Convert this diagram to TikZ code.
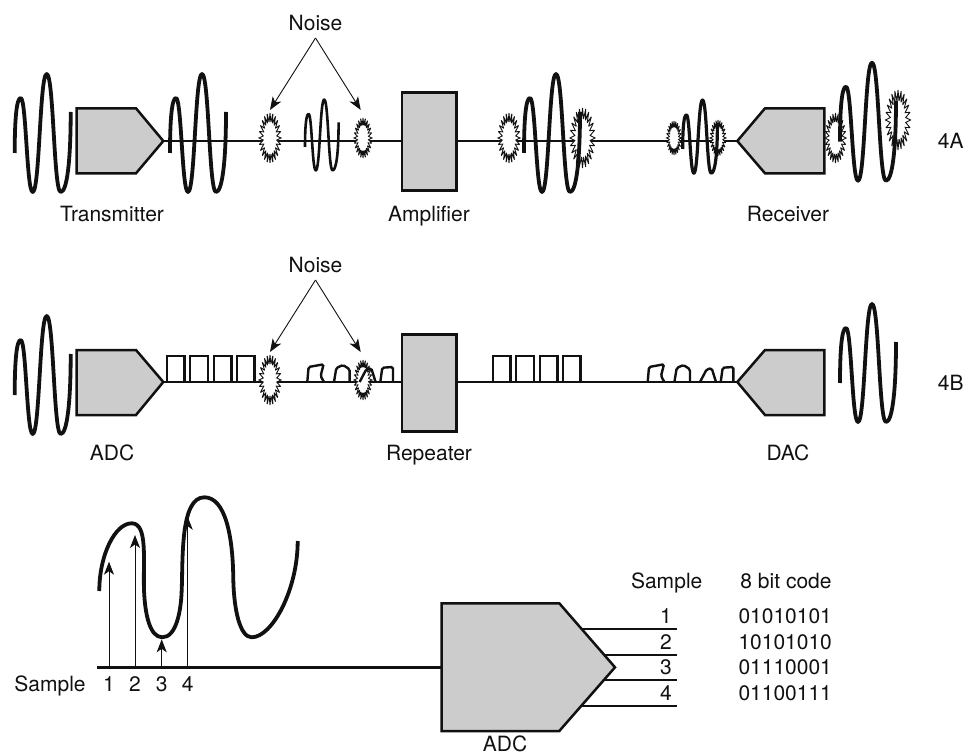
\documentclass[tikz,border=0pt]{standalone}
\usepackage{fontspec}
\setmainfont{TeX Gyre Heros}
\usetikzlibrary{arrows.meta}
\definecolor{boxgray}{HTML}{CCCCCC}
\definecolor{inkc}{HTML}{111111}
\tikzset{
  lbl/.style={inner sep=0pt,text height=15pt,text depth=0pt,font=\fontsize{21}{21}\selectfont,text=inkc},
  unitbox/.style={draw=inkc,fill=boxgray,line width=2.5pt,line join=miter},
  wire/.style={draw=inkc,line width=2.4pt},
  wavy/.style={draw=inkc,line cap=butt,line join=round},
  thinarrow/.style={draw=inkc,line width=0.9pt,-{Stealth[length=13pt,width=10pt,inset=3.5pt]}},
  burst/.style={draw=inkc,fill=white,line width=0.9pt,line join=miter,miter limit=2.5},
  pulse/.style={draw=inkc,line width=2.4pt,line join=miter},
  badpulse/.style={draw=inkc,line width=2.4pt,rounded corners=1.6pt}
}
\newcommand{\sigwave}[4]{%
  \draw[wavy,line width=#4,shift={(#1,#2)},scale=#3]
    (0,0) .. controls (0,-35) and (2,-55) .. (6,-55)
    .. controls (11.5,-55) and (12,39) .. (18,39)
    .. controls (25,39) and (25,-79) .. (32,-79)
    .. controls (39,-79) and (39,39) .. (46,39)
    .. controls (52,39) and (56,10) .. (56,-41);}
\newcommand{\noiseburst}[4]{%
  \draw[burst] plot[sharp plot,domain=0:48,samples=49]
    ({#1+(#3)*(1-0.38*mod(round(\x),2))*cos(\x*7.5)},{#2+(#4)*(1-0.36*mod(round(\x),2))*sin(\x*7.5)}) -- cycle;}
\newcommand{\squarepulses}[2]{%
  \foreach \d in {0,23.4,47,70.3}{%
    \draw[pulse] (#1+\d,#2) -- (#1+\d,356) -- (#1+\d+17.6,356) -- (#1+\d+17.6,#2);}}
\newcommand{\badpulses}[2]{%
  \begin{scope}[shift={(#1,#2)}]
    \draw[badpulse] (0,0) -- (1.3,-15) -- (16.3,-17.7) -- (13.3,-6) -- (16.7,0);
    \draw[badpulse] (26.7,0) -- (29,-14) -- (35.7,-17) -- (42.3,-12.7) -- (42.3,0);
    \draw[badpulse] (52.3,0) -- (59,-12.7) -- (64,-13.7) -- (68.3,0);
    \draw[badpulse] (73,0) -- (75,-14.3) -- (85.7,-15) -- (85.7,0);
  \end{scope}}
\begin{document}
\begin{tikzpicture}[x=1pt,y=-1pt]
\useasboundingbox (0,0) rectangle (978,754);
% ---------- 4A
\coordinate (txA) at (163.3,141);
\coordinate (rxA) at (737.3,141);
\draw[wire] (txA) -- (rxA);
\draw[unitbox] (76.7,108.3) -- (136,108.3) -- (txA) -- (136,173.3) -- (76.7,173.3) -- cycle;
\node[unitbox,minimum width=54.7pt,minimum height=98pt,inner sep=0pt,anchor=center] (amp) at (429.3,141.7) {};
\draw[unitbox] (rxA) -- (765,108.3) -- (824.3,108.3) -- (824.3,173.3) -- (765,173.3) -- cycle;
\noiseburst{270}{138}{11}{25}
\noiseburst{363}{138}{9}{20}
\noiseburst{509}{138}{11}{25}
\noiseburst{582.5}{138}{12.5}{30}
\noiseburst{674}{138}{7.5}{17}
\noiseburst{718}{138}{8}{18}
\noiseburst{835.5}{138}{10.5}{25}
\noiseburst{898}{120}{12.5}{30}
\sigwave{14.7}{153}{1}{3.8pt}
\sigwave{170}{153}{1}{3.8pt}
\sigwave{305}{147}{0.6}{2.6pt}
\sigwave{524}{153}{1}{3.8pt}
\sigwave{682.7}{149}{0.62}{3.2pt}
\sigwave{840}{141.7}{1}{3.8pt}
\node[lbl] (noiseA) at (315.5,23) {Noise};
\coordinate (noiseAfrom) at (315.5,38);
\coordinate (nA1) at (270,110);
\coordinate (nA2) at (360.7,110);
\draw[thinarrow] (noiseAfrom) -- (nA1);
\draw[thinarrow] (noiseAfrom) -- (nA2);
\node[lbl] (transmitter) at (112,214) {Transmitter};
\node[lbl] (amplifier) at (429,214) {Amplifier};
\node[lbl] (receiver) at (788,214) {Receiver};
\node[lbl] (labA) at (950.7,141) {4A};
% ---------- 4B
\coordinate (txB) at (163.3,382);
\coordinate (rxB) at (737.3,382);
\draw[wire] (txB) -- (rxB);
\draw[unitbox] (76.7,350) -- (136,350) -- (txB) -- (136,415) -- (76.7,415) -- cycle;
\node[unitbox,minimum width=54.7pt,minimum height=97.4pt,inner sep=0pt,anchor=center] (rep) at (429.3,383) {};
\draw[unitbox] (rxB) -- (765,350) -- (824.3,350) -- (824.3,415) -- (765,415) -- cycle;
\squarepulses{166.7}{382}
\squarepulses{492.7}{382}
\noiseburst{270}{380}{11}{25}
\noiseburst{363}{380}{9}{20}
\badpulses{307.3}{382}
\badpulses{647.7}{382}
\sigwave{14.7}{395}{1}{3.8pt}
\sigwave{840}{383}{1}{3.8pt}
\node[lbl] (noiseB) at (315.5,265) {Noise};
\coordinate (noiseBfrom) at (315.5,280);
\coordinate (nB1) at (270,352);
\coordinate (nB2) at (360.7,352);
\draw[thinarrow] (noiseBfrom) -- (nB1);
\draw[thinarrow] (noiseBfrom) -- (nB2);
\node[lbl] (adcB) at (112,453) {ADC};
\node[lbl] (repeater) at (429,453) {Repeater};
\node[lbl] (dac) at (788,453) {DAC};
\node[lbl] (labB) at (950.7,382.5) {4B};
% ---------- sampling
\coordinate (baseL) at (97.3,667.3);
\coordinate (adcIn) at (441.7,667.3);
\draw[wire] (baseL) -- (adcIn);
\foreach \yy/\nm in {629/a,654.7/b,680/c,705.7/d}{
  \coordinate (o\nm) at (676.7,\yy);
  \draw[wire] (570,\yy) -- (o\nm);
}
\draw[unitbox] (adcIn) -- (441.7,603.3) -- (559.3,603.3) -- (615,667.3) -- (559.3,731) -- (441.7,731) -- cycle;
\draw[wavy,line width=3.8pt] (99.3,591)
  .. controls (99.3,555) and (115,523.3) .. (131.7,523.3)
  .. controls (148,523.3) and (143,560) .. (144,590)
  .. controls (145,615) and (150,637.3) .. (162.3,637.3)
  .. controls (176,637.3) and (181,612) .. (181.7,590)
  .. controls (183,560) and (180,497.3) .. (204.3,497.3)
  .. controls (225,497.3) and (233,535) .. (233.3,580)
  .. controls (234,610) and (240,637.3) .. (251.7,637.3)
  .. controls (272,637.3) and (297.7,590) .. (297.7,541);
\foreach \xx/\yy/\nm in {109/561.7/1,135/535/2,161.7/639.3/3,187.7/516.7/4}{
  \coordinate (s\nm a) at (\xx,667.3);
  \coordinate (s\nm b) at (\xx,\yy);
  \draw[thinarrow] (s\nm a) -- (s\nm b);
  \node[lbl] (sn\nm) at (\xx,684) {\nm};
}
\node[lbl] (sampleL) at (50,684) {Sample};
\node[lbl] (sampleH) at (666.7,581) {Sample};
\node[lbl] (codeH) at (786,581) {8 bit code};
\node[lbl] (n1) at (666,616) {1};
\node[lbl] (n2) at (666,642) {2};
\node[lbl] (n3) at (666,667.3) {3};
\node[lbl] (n4) at (666,693) {4};
\node[lbl,anchor=west] (c1) at (738.3,616) {01010101};
\node[lbl,anchor=west] (c2) at (738.3,642) {10101010};
\node[lbl,anchor=west] (c3) at (738.3,667.3) {01110001};
\node[lbl,anchor=west] (c4) at (738.3,693) {01100111};
\node[lbl] (adcC) at (505,743.5) {ADC};
\end{tikzpicture}
\end{document}
